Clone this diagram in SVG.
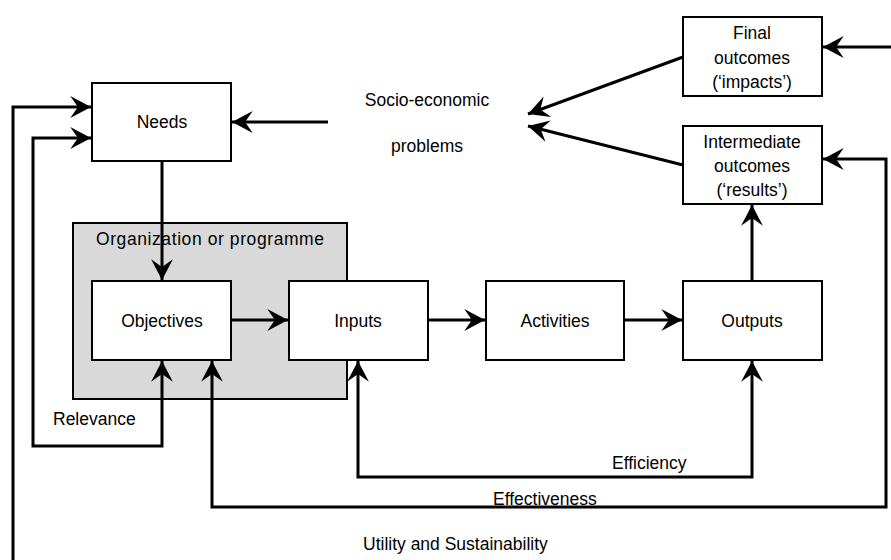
<svg xmlns="http://www.w3.org/2000/svg" width="891" height="560" viewBox="0 0 891 560">
<style>
.box{fill:#fff;stroke:#000;stroke-width:2}
.org{fill:#d9d9d9;stroke:#000;stroke-width:2}
.t{font-family:"Liberation Sans",Arial,sans-serif;font-size:17.5px;fill:#000}
.c{text-anchor:middle}
.ln{fill:none;stroke:#000;stroke-width:3}
</style>
<defs>
<marker id="ah" markerUnits="userSpaceOnUse" markerWidth="24" markerHeight="24" viewBox="-20 -11 22 22" refX="0" refY="0" orient="auto-start-reverse">
<path d="M0,0 L-19,-10 L-12,0 L-19,10 Z" fill="#000"/>
</marker>
</defs>
<rect width="891" height="560" fill="#fff"/>
<g id="org">
<rect class="org" x="73" y="223" width="274" height="176"/>
<text class="t" x="96" y="245" textLength="228">Organization or programme</text>
</g>
<g id="needs">
<rect class="box" x="92" y="83" width="139" height="78"/>
<text class="t c" x="162" y="128">Needs</text>
</g>
<g id="socio">
<text class="t c" x="427" y="106">Socio-economic</text>
<text class="t c" x="427" y="152">problems</text>
</g>
<g id="final">
<rect class="box" x="683" y="17" width="139" height="79"/>
<text class="t c" x="752" y="39">Final</text>
<text class="t c" x="752" y="64">outcomes</text>
<text class="t c" x="752" y="88">(‘impacts’)</text>
</g>
<g id="intermediate">
<rect class="box" x="683" y="126" width="139" height="78"/>
<text class="t c" x="752" y="148">Intermediate</text>
<text class="t c" x="752" y="172">outcomes</text>
<text class="t c" x="752" y="196">(‘results’)</text>
</g>
<g id="objectives">
<rect class="box" x="92" y="281" width="139" height="79"/>
<text class="t c" x="162" y="327">Objectives</text>
</g>
<g id="inputs">
<rect class="box" x="289" y="281" width="139" height="79"/>
<text class="t c" x="358" y="327">Inputs</text>
</g>
<g id="activities">
<rect class="box" x="486" y="281" width="138" height="79"/>
<text class="t c" x="555" y="327">Activities</text>
</g>
<g id="outputs">
<rect class="box" x="683" y="281" width="139" height="79"/>
<text class="t c" x="752" y="327">Outputs</text>
</g>
<g id="connectors">
<path class="ln" d="M162,161 V280" marker-end="url(#ah)"/>
<path class="ln" d="M231,320 H288" marker-end="url(#ah)"/>
<path class="ln" d="M428,320 H485" marker-end="url(#ah)"/>
<path class="ln" d="M624,320 H682" marker-end="url(#ah)"/>
<path class="ln" d="M752,281 V205" marker-end="url(#ah)"/>
<path class="ln" d="M328,122 H232" marker-end="url(#ah)"/>
<path class="ln" d="M683,57 L528,114" marker-end="url(#ah)"/>
<path class="ln" d="M683,165 L528,126" marker-end="url(#ah)"/>
<path class="ln" d="M891,47 H823" marker-end="url(#ah)"/>
<path class="ln" d="M13,560 V107 H91" marker-end="url(#ah)"/>
<path class="ln" d="M162,361 V446 H33 V138 H91" marker-start="url(#ah)" marker-end="url(#ah)"/>
<path class="ln" d="M358,361 V477 H752 V361" marker-start="url(#ah)" marker-end="url(#ah)"/>
<path class="ln" d="M212,361 V507 H886 V159 H823" marker-start="url(#ah)" marker-end="url(#ah)"/>
</g>
<g id="labels">
<text class="t" x="53" y="425">Relevance</text>
<text class="t" x="612" y="469">Efficiency</text>
<text class="t" x="493" y="505">Effectiveness</text>
<text class="t" x="363" y="550">Utility and Sustainability</text>
</g>
</svg>
